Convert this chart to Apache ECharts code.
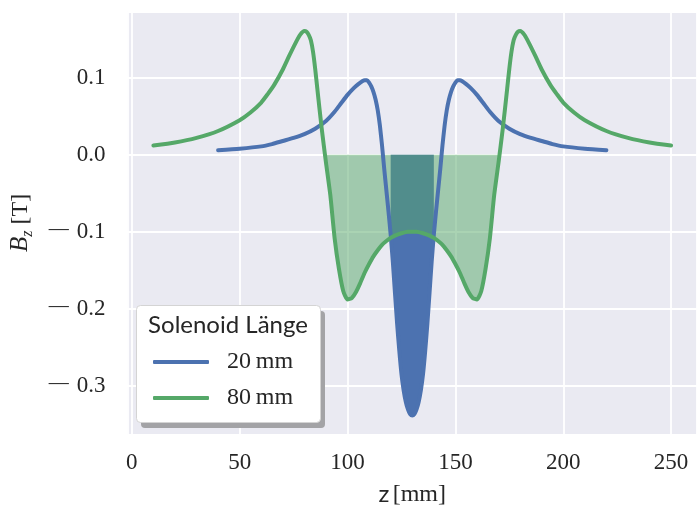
<!DOCTYPE html>
<html>
<head>
<meta charset="utf-8">
<script src="https://cdn.jsdelivr.net/npm/echarts@6/dist/echarts.min.js"></script>
<style>
  html, body { margin: 0; padding: 0; background: #ffffff; }
  #chart { width: 697px; height: 516px; }
</style>
</head>
<body>
<div id="chart"></div>
<script>
// Axial field B_z along z for two solenoid lengths
const zShort = [40, 50, 60, 65, 70, 75, 80, 85, 90, 94, 97, 100, 103, 105, 107, 108, 109, 110,
  111, 112, 113, 114, 115, 116, 117, 118, 119, 120, 121, 122, 123, 124, 125, 126, 127, 128, 129, 130,
  131, 132, 133, 134, 135, 136, 137, 138, 139, 140, 141, 142, 143, 144, 145, 146, 147, 148, 149, 150,
  151, 152, 153, 155, 157, 160, 163, 166, 170, 175, 180, 185, 190, 195, 200, 210, 220];
const bShort = [0.006, 0.008, 0.011, 0.014, 0.018, 0.022, 0.027, 0.034, 0.044, 0.056, 0.067, 0.078, 0.087, 0.092, 0.096, 0.097, 0.097, 0.094,
  0.089, 0.082, 0.072, 0.058, 0.038, 0.012, -0.018, -0.046, -0.074, -0.104, -0.139, -0.180, -0.220, -0.255, -0.285, -0.306, -0.321, -0.331, -0.337, -0.339,
  -0.337, -0.331, -0.321, -0.306, -0.285, -0.255, -0.220, -0.180, -0.139, -0.104, -0.074, -0.046, -0.018, 0.012, 0.038, 0.058, 0.072, 0.082, 0.089, 0.094,
  0.097, 0.097, 0.096, 0.092, 0.087, 0.078, 0.067, 0.056, 0.044, 0.034, 0.027, 0.022, 0.018, 0.014, 0.011, 0.008, 0.006];

const zLong = [10, 20, 30, 40, 50, 55, 60, 63, 66, 70, 73, 76, 78, 80, 81, 82, 83, 84, 85, 86, 87, 88, 89, 90,
  92, 94, 96, 98, 100, 102, 104, 106, 108, 110, 112, 114, 116, 118, 120, 122, 125, 128, 130,
  132, 135, 138, 140, 142, 144, 146, 148, 150, 152, 154, 156, 158, 160, 162, 164, 166, 168,
  170, 171, 172, 173, 174, 175, 176, 177, 178, 179, 180, 182, 184, 187, 190, 194, 197, 200, 205, 210, 220, 230, 240, 250];
const bLong = [0.012, 0.016, 0.022, 0.031, 0.045, 0.055, 0.068, 0.079, 0.091, 0.111, 0.129, 0.146, 0.156, 0.161, 0.160, 0.156, 0.149, 0.134, 0.112, 0.086, 0.060, 0.035, 0.012, -0.010,
  -0.052, -0.108, -0.148, -0.177, -0.188, -0.186, -0.178, -0.166, -0.153, -0.142, -0.132, -0.124, -0.117, -0.112, -0.108, -0.105, -0.102, -0.100, -0.100,
  -0.100, -0.102, -0.105, -0.108, -0.112, -0.117, -0.124, -0.132, -0.142, -0.153, -0.166, -0.178, -0.186, -0.188, -0.177, -0.148, -0.108, -0.052,
  -0.010, 0.012, 0.035, 0.060, 0.086, 0.112, 0.134, 0.149, 0.156, 0.160, 0.161, 0.156, 0.146, 0.129, 0.111, 0.091, 0.079, 0.068, 0.055, 0.045, 0.031, 0.022, 0.016, 0.012];

// shaded ranges (solenoid extent) for each length
const rangeShort = [120, 140];
const rangeLong = [90, 170];

const xTicks = [0, 50, 100, 150, 200, 250];
const yTicks = [-0.3, -0.2, -0.1, 0.0, 0.1];
const seriesNames = ['20\u2009mm', '80\u2009mm'];
const legendTitle = 'Solenoid Länge';

const BLUE = '#4C72B0';
const GREEN = '#55A868';
const TEXT = '#262626';
const SERIF = '"Liberation Serif", "DejaVu Serif", serif';
const SANS = 'Lato, "Open Sans", sans-serif';
const SMOOTH = 0.2;

const pairs = (zs, bs) => zs.map((z, i) => [z, bs[i]]);
const within = (data, r) => data.filter(p => p[0] >= r[0] && p[0] <= r[1]);

const shortData = pairs(zShort, bShort);
const longData = pairs(zLong, bLong);

const near = (v, list) => list.some(t => Math.abs(t - v) < 1e-6);
// negative tick values get a long, thin minus bar
const fmtY = v => {
  if (!near(v, yTicks)) return '';
  const s = Math.abs(v).toFixed(1);
  return v < -1e-9 ? '{m|\u2014}{n|' + s + '}' : '{n|' + s + '}';
};
const fmtX = v => near(v, xTicks) ? String(Math.round(v)) : '';

const chart = echarts.init(document.getElementById('chart'), null, { renderer: 'canvas' });

chart.setOption({
  animation: false,
  backgroundColor: '#ffffff',
  grid: {
    left: 123.5, top: 11.4, width: 581.2, height: 423,
    show: true, backgroundColor: '#EAEAF2', borderWidth: 0
  },
  xAxis: {
    type: 'value', min: -2, max: 262, splitNumber: 5,
    axisLine: { show: false }, axisTick: { show: false },
    axisLabel: { formatter: fmtX, color: TEXT, fontFamily: SERIF, fontSize: 23, margin: 17, showMinLabel: false, showMaxLabel: false },
    splitLine: { show: true, lineStyle: { color: '#ffffff', width: 1.8 } },
    name: '{s|z} {r|[mm]}', nameLocation: 'middle', nameGap: 48,
    nameTextStyle: { color: TEXT, rich: {
      s: { fontFamily: SANS, fontSize: 24, color: TEXT },
      r: { fontFamily: SERIF, fontSize: 24, color: TEXT }
    } }
  },
  yAxis: {
    type: 'value', min: -0.3635, max: 0.1865, splitNumber: 5,
    axisLine: { show: false }, axisTick: { show: false },
    axisLabel: {
      formatter: fmtY, color: TEXT, margin: 22, showMinLabel: false, showMaxLabel: false,
      rich: {
        m: { fontFamily: SERIF, fontSize: 20, color: TEXT, padding: [0, 8, 4, 0] },
        n: { fontFamily: SERIF, fontSize: 23, color: TEXT }
      }
    },
    splitLine: { show: true, lineStyle: { color: '#ffffff', width: 1.8 } },
    name: '{i|B}{sub|z}{r| [T]}', nameLocation: 'middle', nameGap: 92,
    nameTextStyle: { color: TEXT, rich: {
      i: { fontFamily: SERIF, fontStyle: 'italic', fontSize: 25, lineHeight: 30, color: TEXT },
      sub: { fontFamily: SERIF, fontStyle: 'italic', fontSize: 16, lineHeight: 14, verticalAlign: 'bottom', color: TEXT },
      r: { fontFamily: SERIF, fontSize: 24, lineHeight: 30, color: TEXT }
    } }
  },
  legend: {
    orient: 'vertical', left: 153, top: 349, padding: 0,
    itemWidth: 56, itemHeight: 4, itemGap: 10, icon: 'roundRect',
    selectedMode: false, z: 20,
    textStyle: { fontFamily: SERIF, fontSize: 24, lineHeight: 26, color: TEXT, padding: [0, 0, 0, 13] },
    data: seriesNames
  },
  graphic: [
    { type: 'rect', left: 141, top: 311, z: 15, shape: { width: 184, height: 117, r: 4 }, style: { fill: '#A3A3A6' } },
    { type: 'rect', left: 136, top: 305, z: 16, shape: { width: 184, height: 117, r: 4 }, style: { fill: '#ffffff', stroke: '#D4D4D4', lineWidth: 1 } },
    { type: 'text', x: 228, y: 325, z: 17, style: { text: legendTitle, fontFamily: SANS, fontSize: 24, fill: TEXT, align: 'center', verticalAlign: 'middle' } }
  ],
  series: [
    {
      name: 'fill-short', type: 'line', data: within(shortData, rangeShort),
      showSymbol: false, silent: true, z: 2, smooth: SMOOTH,
      lineStyle: { width: 0 }, areaStyle: { color: BLUE, opacity: 1, origin: 'auto' }
    },
    {
      name: 'fill-long', type: 'line', data: within(longData, rangeLong),
      showSymbol: false, silent: true, z: 3, smooth: SMOOTH,
      lineStyle: { width: 0 }, areaStyle: { color: GREEN, opacity: 0.5, origin: 'auto' }
    },
    {
      name: seriesNames[0], type: 'line', data: shortData, showSymbol: false, z: 4, smooth: SMOOTH,
      color: BLUE, lineStyle: { color: BLUE, width: 4, cap: 'round', join: 'round' }
    },
    {
      name: seriesNames[1], type: 'line', data: longData, showSymbol: false, z: 5, smooth: SMOOTH,
      color: GREEN, lineStyle: { color: GREEN, width: 4, cap: 'round', join: 'round' }
    }
  ]
});
</script>
</body>
</html>
